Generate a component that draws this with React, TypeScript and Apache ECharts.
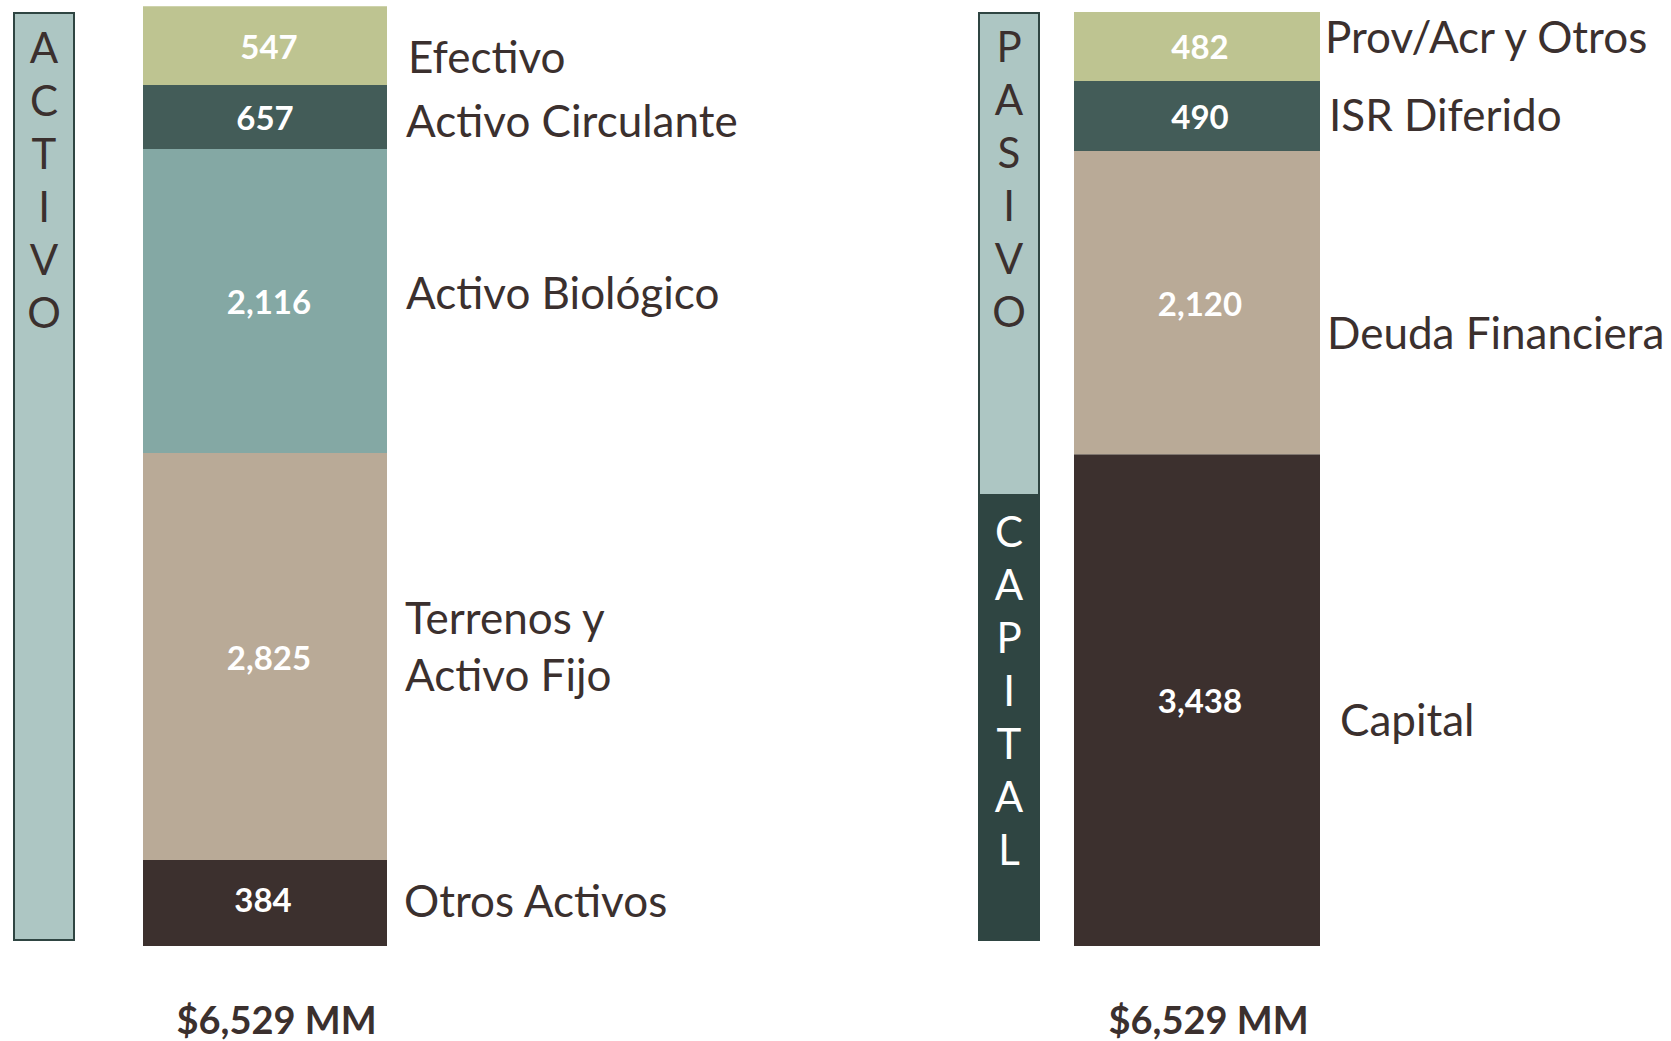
import React, { useEffect, useRef } from 'react';
import * as echarts from 'echarts';

// ---------- data (top segment first) ----------
const activoNames = ['Efectivo', 'Activo Circulante', 'Activo Biológico', 'Terrenos y\nActivo Fijo', 'Otros Activos'];
const activoValues = [547, 657, 2116, 2825, 384]; // printed values
const activoDrawn = [552, 447, 2125, 2846, 601]; // segment extents as drawn in the picture
const pasivoNames = ['Prov/Acr y Otros', 'ISR Diferido', 'Deuda Financiera', 'Capital'];
const pasivoValues = [482, 490, 2120, 3438];
const pasivoDrawn = [482, 490, 2120, 3438];
const totalLabels = ['$6,529 MM', '$6,529 MM'];
const leftSections = ['ACTIVO'];
const leftSectionExtent = [6529];
const rightSections = ['PASIVO', 'CAPITAL'];
const rightSectionExtent = [3402, 3127];

// ---------- styles / layout ----------
const FONT = 'Lato, Carlito, "Noto Sans", sans-serif';
const TEXT = '#3b302e';
const activoColors = ['#bec491', '#435c58', '#84a8a4', '#b9aa97', '#3c302e'];
const pasivoColors = ['#bec491', '#435c58', '#b9aa97', '#3c302e'];
const activoNameOffsets = [[21, 10], [19, 2.5], [19, -9], [18, -11], [17, -3]];
const pasivoNameOffsets = [[5, -10], [9, -2], [7, 29], [20, 19]];
const activoValueOffsets = [[4, 0], [0, 0], [4, 0], [4, 0], [-2, -4]];
const pasivoValueOffsets = [[3, 0], [3, 0], [3, 0], [3, 0]];
const LIGHT_BOX = '#adc6c3';
const DARK_BOX = '#2f4542';

const fmt = (v: number) => v.toLocaleString('en-US');

function buildStack(
  gi: number, names: string[], values: number[], drawn: number[], colors: string[],
  offsets: number[][], valueOffsets: number[][],
) {
  const out: any[] = [];
  for (let i = names.length - 1; i >= 0; i--) {
    out.push({
      type: 'bar',
      xAxisIndex: gi,
      yAxisIndex: gi,
      stack: 'values' + gi,
      barWidth: '100%',
      barGap: '-100%',
      data: [drawn[i]],
      itemStyle: { color: colors[i] },
      label: {
        show: true,
        position: 'inside',
        offset: valueOffsets[i],
        formatter: fmt(values[i]),
        color: '#ffffff',
        fontWeight: 'bold',
        fontSize: 33,
        fontFamily: FONT,
      },
    });
    out.push({
      type: 'bar',
      xAxisIndex: gi,
      yAxisIndex: gi,
      stack: 'names' + gi,
      barWidth: '100%',
      barGap: '-100%',
      silent: true,
      data: [drawn[i]],
      itemStyle: { color: 'transparent' },
      label: {
        show: true,
        position: 'right',
        distance: 0,
        offset: offsets[i],
        formatter: names[i],
        color: TEXT,
        fontSize: 44,
        lineHeight: 57,
        fontFamily: FONT,
        align: 'left',
        verticalAlign: 'middle',
      },
    });
  }
  return out;
}

function sectionSeries(gi: number, name: string, value: number, fill: string, textColor: string, dist: number) {
  return {
    type: 'bar',
    xAxisIndex: gi,
    yAxisIndex: gi,
    stack: 'sec' + gi,
    barWidth: '100%',
    data: [value],
    itemStyle: { color: fill, borderColor: DARK_BOX, borderWidth: 2 },
    label: {
      show: true,
      position: 'insideTop',
      distance: dist,
      formatter: name.split('').join('\n'),
      color: textColor,
      fontSize: 42,
      lineHeight: 53,
      fontWeight: 'normal',
      fontFamily: FONT,
    },
  };
}

const totalAxisLabel = {
  show: true,
  fontSize: 38,
  lineHeight: 38,
  fontWeight: 'bold',
  fontFamily: FONT,
  color: TEXT,
  margin: 73,
  verticalAlign: 'middle',
  padding: [0, 0, 0, 23],
};

export default function App() {
  const ref = useRef<HTMLDivElement>(null);
  useEffect(() => {
    if (!ref.current) return;
    const chart = echarts.init(ref.current, undefined, { renderer: 'svg' });
    const sectionTotalRight = rightSectionExtent[0] + rightSectionExtent[1];
    chart.setOption({
      animation: false,
      backgroundColor: '#ffffff',
      grid: [
        { left: 13, width: 62, top: 12, bottom: 100 },
        { left: 143, width: 244, top: 2, bottom: 95 },
        { left: 978, width: 62, top: 12, bottom: 100 },
        { left: 1074, width: 246, top: 2, bottom: 95 },
      ],
      xAxis: [
        { gridIndex: 0, type: 'category', data: [''], show: false },
        {
          gridIndex: 1, type: 'category', data: [totalLabels[0]],
          axisLine: { show: false }, axisTick: { show: false }, axisLabel: totalAxisLabel,
        },
        { gridIndex: 2, type: 'category', data: [''], show: false },
        {
          gridIndex: 3, type: 'category', data: [totalLabels[1]],
          axisLine: { show: false }, axisTick: { show: false }, axisLabel: totalAxisLabel,
        },
      ],
      yAxis: [
        { gridIndex: 0, type: 'value', min: 0, max: leftSectionExtent[0], show: false },
        { gridIndex: 1, type: 'value', min: 0, max: 6600, show: false },
        { gridIndex: 2, type: 'value', min: 0, max: sectionTotalRight, show: false },
        { gridIndex: 3, type: 'value', min: 0, max: 6600, show: false },
      ],
      series: [
        sectionSeries(0, leftSections[0], leftSectionExtent[0], LIGHT_BOX, TEXT, 8.5),
        sectionSeries(2, rightSections[1], rightSectionExtent[1], DARK_BOX, '#ffffff', 8.5),
        sectionSeries(2, rightSections[0], rightSectionExtent[0], LIGHT_BOX, TEXT, 7.5),
        ...buildStack(1, activoNames, activoValues, activoDrawn, activoColors, activoNameOffsets, activoValueOffsets),
        ...buildStack(3, pasivoNames, pasivoValues, pasivoDrawn, pasivoColors, pasivoNameOffsets, pasivoValueOffsets),
      ],
    });
    return () => chart.dispose();
  }, []);
  return (
    <div
      ref={ref}
      style={{ position: 'fixed', left: 0, top: 0, width: 1671, height: 1041, background: '#ffffff' }}
    />
  );
}
